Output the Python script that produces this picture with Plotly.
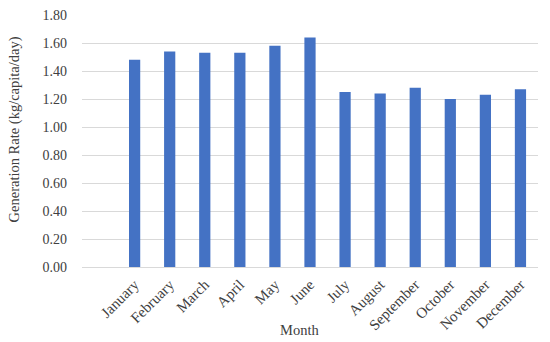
import plotly.graph_objects as go

months = ["January", "February", "March", "April", "May", "June",
          "July", "August", "September", "October", "November", "December"]
rates = [1.48, 1.54, 1.53, 1.53, 1.58, 1.64, 1.25, 1.24, 1.28, 1.20, 1.23, 1.27]
y_ticks = [0.0, 0.2, 0.4, 0.6, 0.8, 1.0, 1.2, 1.4, 1.6, 1.8]

font_family = "Liberation Serif, DejaVu Serif, serif"
txt_color = "#404040"

fig = go.Figure(go.Bar(x=months, y=rates, marker_color="#4472C4",
                       marker_line_width=0))

fig.update_layout(
    width=550, height=342,
    margin=dict(l=82, r=12, t=15, b=75, autoexpand=False),
    paper_bgcolor="white", plot_bgcolor="white",
    bargap=0.68,
    showlegend=False,
    font=dict(family=font_family, size=14, color=txt_color),
    annotations=[
        dict(text="Month", xref="paper", yref="paper", x=0.478, y=-0.25,
             xanchor="center", yanchor="middle", showarrow=False,
             font=dict(size=14.5, color=txt_color)),
        dict(text="Generation Rate (kg/capita/day)", xref="paper", yref="paper",
             x=-0.148, y=0.544, xanchor="center", yanchor="middle",
             textangle=-90, showarrow=False,
             font=dict(size=14.5, color=txt_color)),
    ],
)
fig.update_xaxes(
    type="category", range=[-1.5, 11.5],
    tickangle=-45, showgrid=False, showline=False, ticks="",
    ticklabelstandoff=5,
    tickfont=dict(size=15, color=txt_color),
    automargin=False,
)
fig.update_yaxes(
    range=[0, 1.8], tickvals=y_ticks,
    ticktext=[f"{v:.2f}" for v in y_ticks],
    showgrid=True, gridcolor="#d9d9d9", gridwidth=1,
    zeroline=True, zerolinecolor="#d9d9d9", zerolinewidth=1,
    showline=False, ticks="",
    ticklabelstandoff=14, ticklabeloverflow="allow",
    tickfont=dict(size=14, color=txt_color),
    automargin=False,
)

fig.write_html("out.html",
               config={"displayModeBar": False},
               post_script="document.body.style.margin='0';")
